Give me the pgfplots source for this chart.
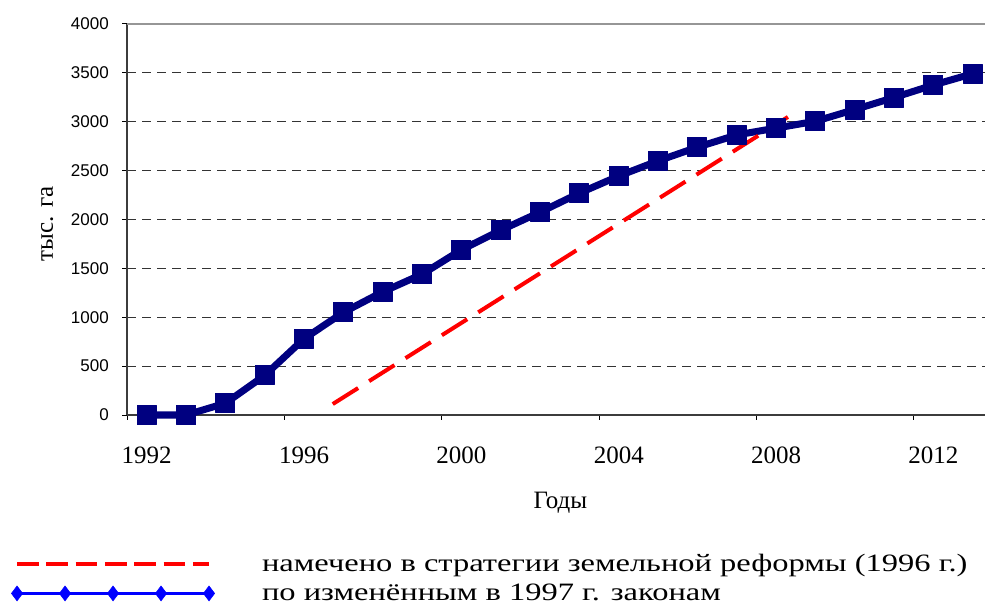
\documentclass[border=0pt]{standalone}
\usepackage{fontspec}
\setmainfont{Liberation Serif}
\newfontfamily\arialfont{Liberation Sans}
\newfontfamily\legfont[FakeStretch=1.3]{Liberation Serif}
\usepackage{pgfplots}
\pgfplotsset{compat=1.18}
\definecolor{navyc}{RGB}{0,0,128}
\definecolor{axgray}{RGB}{60,60,60}
\definecolor{topgray}{RGB}{150,150,150}
\begin{document}
\begin{tikzpicture}
\path[use as bounding box] (0,0) rectangle (985bp,608bp);
\begin{axis}[
  at={(127bp,193bp)}, anchor=south west,
  scale only axis, width=858bp, height=391bp,
  xmin=1991.5, xmax=2013.31, ymin=0, ymax=4000,
  clip=false,
  axis x line*=bottom, axis y line*=left,
  axis line style={draw=axgray, line width=1.8bp, -},
  xtick={1991.5,1995.5,1999.5,2003.5,2007.5,2011.5},
  xticklabels={},
  extra x ticks={1992,1996,2000,2004,2008,2012},
  extra x tick labels={1992,1996,2000,2004,2008,2012},
  extra x tick style={major tick length=0pt},
  ytick={0,500,...,4000},
  tick align=outside,
  major tick length=5bp,
  tick style={draw=black, line width=1bp},
  ymajorgrids,
  major grid style={draw=black!80, line width=1.1bp, dash pattern=on 9bp off 6bp},
  xticklabel style={font=\fontsize{25bp}{30bp}\selectfont, anchor=base, inner sep=0pt, yshift=-48bp},
  yticklabel style={font=\arialfont\fontsize{17bp}{20bp}\selectfont, anchor=east, inner sep=0pt, xshift=-13bp},
  /pgf/number format/assume math mode=true,
  /pgf/number format/set thousands separator={},
  xlabel={Годы}, ylabel={тыс. га},
  label style={font=\fontsize{25bp}{30bp}\selectfont},
  xlabel style={at={(axis description cs:0.505,-0.225)}, anchor=center},
  ylabel style={at={(axis description cs:-0.093,0.489)}, anchor=center},
  legend style={at={(axis description cs:-0.1375,-0.357)}, anchor=north west,
    draw=none, fill=none, inner sep=0pt, outer sep=0pt,
    font=\legfont\fontsize{25bp}{30bp}\selectfont,
    row sep=11bp, column sep=45bp, nodes={inner sep=0pt}},
  legend cell align=left,
]
\draw[topgray, line width=2bp] (rel axis cs:0,1) -- (rel axis cs:1,1);
\addplot[navyc, line width=7bp, line join=round, mark=square*,
  mark size=9.5bp, mark options={solid, line width=1bp}, forget plot]
  coordinates {
  (1992,0) (1993,0) (1994,120) (1995,405) (1996,780) (1997,1050)
  (1998,1260) (1999,1440) (2000,1690) (2001,1890) (2002,2075)
  (2003,2270) (2004,2445) (2005,2600) (2006,2740) (2007,2865)
  (2008,2935) (2009,3005) (2010,3125) (2011,3248) (2012,3376) (2013,3492)};
\addplot[red, line width=4bp, dash pattern=on 30bp off 13bp, forget plot]
  coordinates {(1996.73,112) (2008.30,3049)};
\addlegendimage{legend image code/.code={
  \path[draw=none,fill=none] (-8bp,-8bp) rectangle (200bp,8bp);
  \draw[red, line width=4bp, dash pattern=on 21.7bp off 7.6bp] (0bp,0bp) -- (192bp,0bp);}}
\addlegendentry{намечено в стратегии земельной реформы (1996 г.)}
\addlegendimage{legend image code/.code={
  \path[draw=none,fill=none] (-8bp,-8bp) rectangle (200bp,8bp);
  \draw[blue, line width=2.5bp] plot[mark=diamond*, mark size=7.5bp, mark options={line width=0.5bp}]
    coordinates {(0bp,0bp) (48bp,0bp) (96bp,0bp) (144bp,0bp) (192bp,0bp)};}}
\addlegendentry{по изменённым в 1997 г. законам}
\end{axis}
\end{tikzpicture}
\end{document}
